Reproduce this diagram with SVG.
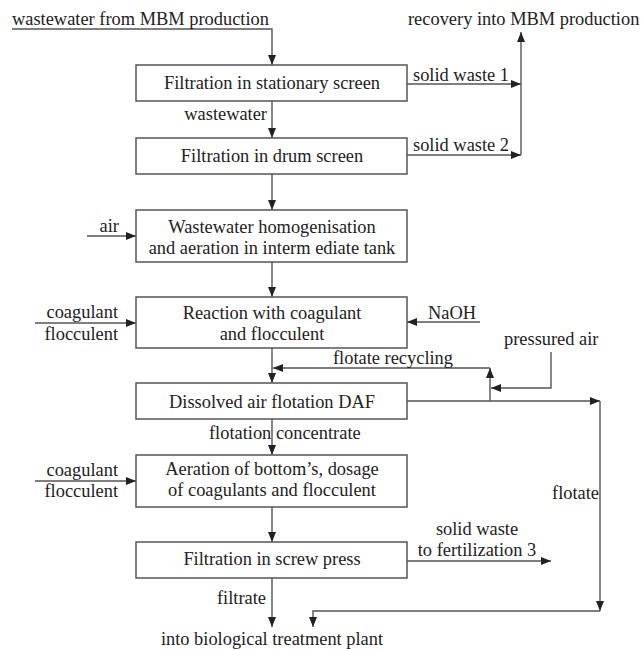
<svg xmlns="http://www.w3.org/2000/svg" width="643" height="650" viewBox="0 0 643 650">
<defs>
<marker id="arr" markerUnits="userSpaceOnUse" markerWidth="10" markerHeight="8" refX="10" refY="4" orient="auto">
<path d="M0,0 L10,4 L0,8 z" fill="#222"/>
</marker>
<style>
text{font-family:"Liberation Serif","Times New Roman",serif;font-size:18.4px;fill:#222}
.c{text-anchor:middle}
.e{text-anchor:end}
rect{fill:#fff;stroke:#555;stroke-width:1.5}
.ln path{fill:none;stroke:#555;stroke-width:1.4}
.ln path.a{marker-end:url(#arr)}
</style>
</defs>
<rect x="0" y="0" width="643" height="650" style="fill:#fff;stroke:none"/>
<g class="ln" id="connectors">
<path class="a" d="M12,29 H272 V65"/>
<path class="a" d="M272,101 V138"/>
<path class="a" d="M272,174 V210"/>
<path class="a" d="M272,262 V297"/>
<path class="a" d="M272,348 V383"/>
<path class="a" d="M272,419 V455"/>
<path class="a" d="M272,507 V542"/>
<path class="a" d="M272,578 V627"/>
<path class="a" d="M407,84 H521"/>
<path class="a" d="M407,155 H521"/>
<path class="a" d="M521,155 V32"/>
<path class="a" d="M87,236 H136"/>
<path class="a" d="M35,323 H136"/>
<path class="a" d="M480,322 H407"/>
<path class="a" d="M490,401 V368"/>
<path class="a" d="M490,368 H273"/>
<path class="a" d="M551,352 V388 H491"/>
<path class="a" d="M407,401 H600"/>
<path class="a" d="M600,401 V611"/>
<path class="a" d="M600,611 H313 V627"/>
<path class="a" d="M35,481 H136"/>
<path class="a" d="M407,561 H551"/>
</g>
<g id="labels">
<text x="12" y="25">wastewater from MBM production</text>
<text x="408" y="25">recovery into MBM production</text>
<text x="413" y="81">solid waste 1</text>
<text x="413" y="151">solid waste 2</text>
<text x="267" y="120" class="e">wastewater</text>
<text x="119" y="232" class="e">air</text>
<text x="118" y="318" class="e">coagulant</text>
<text x="118" y="340" class="e">flocculent</text>
<text x="428" y="319">NaOH</text>
<text x="504" y="345">pressured air</text>
<text x="333" y="364">flotate recycling</text>
<text x="209" y="439">flotation concentrate</text>
<text x="599" y="499" class="e">flotate</text>
<text x="118" y="476" class="e">coagulant</text>
<text x="118" y="497" class="e">flocculent</text>
<text x="477" y="535" class="c">solid waste</text>
<text x="477" y="556" class="c">to fertilization 3</text>
<text x="266" y="604" class="e">filtrate</text>
<text x="272" y="645" class="c">into biological treatment plant</text>
</g>
<g id="n1"><rect x="136" y="65" width="271" height="36"/><text x="272" y="89" class="c">Filtration in stationary screen</text></g>
<g id="n2"><rect x="136" y="138" width="271" height="36"/><text x="272" y="162" class="c">Filtration in drum screen</text></g>
<g id="n3"><rect x="136" y="210" width="271" height="52"/><text x="272" y="233" class="c">Wastewater homogenisation</text><text x="272" y="254" class="c">and aeration in interm ediate tank</text></g>
<g id="n4"><rect x="136" y="297" width="271" height="51"/><text x="272" y="319" class="c">Reaction with coagulant</text><text x="272" y="340" class="c">and flocculent</text></g>
<g id="n5"><rect x="136" y="383" width="271" height="36"/><text x="272" y="408" class="c">Dissolved air flotation DAF</text></g>
<g id="n6"><rect x="136" y="455" width="271" height="52"/><text x="272" y="475" class="c">Aeration of bottom’s, dosage</text><text x="272" y="496" class="c">of coagulants and flocculent</text></g>
<g id="n7"><rect x="136" y="542" width="271" height="36"/><text x="272" y="565" class="c">Filtration in screw press</text></g>
</svg>
